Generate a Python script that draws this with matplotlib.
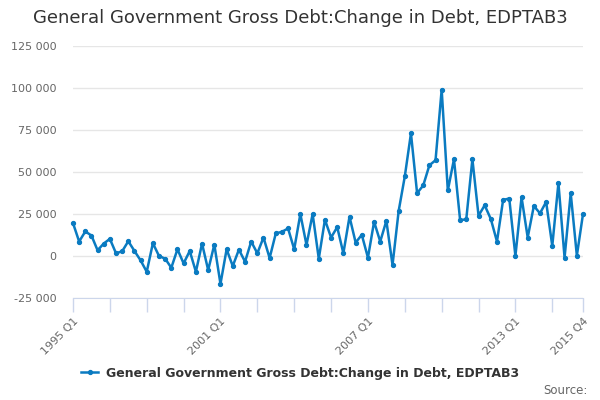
import numpy as np
import matplotlib
import matplotlib.pyplot as plt
from matplotlib.ticker import FixedLocator, FuncFormatter

matplotlib.use('Agg')

# quarterly change in debt, 1995 Q1 .. 2015 Q4
quarters = [f'{y} Q{q}' for y in range(1995, 2016) for q in range(1, 5)]
change_in_debt = [
    19600, 8600, 14600, 12200, 3400, 7400, 10200, 1600,
    2800, 8800, 3000, -2600, -9400, 7600, 0, -1600,
    -7000, 4000, -4400, 3000, -9400, 7400, -8400, 6800,
    -16600, 4000, -6000, 3800, -3400, 8600, 1600, 11000,
    -1200, 13400, 14400, 16400, 4000, 25000, 6600, 25000,
    -1600, 21600, 11000, 17200, 1600, 23400, 8000, 12600,
    -1000, 20400, 8600, 21000, -5400, 26800, 47400, 73000,
    37400, 42000, 54000, 57000, 99000, 39000, 57600, 21400,
    21800, 57600, 24000, 30200, 22000, 8600, 33400, 34200,
    0, 35000, 11000, 29800, 25400, 32200, 6000, 43400,
    -1000, 37400, 200, 25000,
]
series_name = 'General Government Gross Debt:Change in Debt, EDPTAB3'
y_ticks = [-25000, 0, 25000, 50000, 75000, 100000, 125000]
label_idx = [0, 24, 48, 72, 83]

line_color = '#0a7bc1'
grid_color = '#e6e6e6'
axis_color = '#ccd6eb'
label_color = '#666666'

fig = plt.figure(figsize=(6, 4), dpi=100)
ax = fig.add_axes([73 / 600, 1 - 298 / 400, 510 / 600, 252 / 400])

x = np.arange(len(change_in_debt))
ax.plot(x, change_in_debt, color=line_color, lw=1.8, marker='o', ms=2.8,
        label=series_name, clip_on=False, zorder=3)

ax.set_xlim(0, len(quarters) - 1)
ax.set_ylim(y_ticks[0], y_ticks[-1])

ax.set_yticks(y_ticks)
ax.yaxis.set_major_formatter(FuncFormatter(lambda v, p: f'{int(v):,}'.replace(',', ' ')))
ax.tick_params(axis='y', length=0, labelsize=8, labelcolor=label_color, pad=12)
ax.grid(axis='y', color=grid_color, lw=1)
ax.set_axisbelow(True)

ax.xaxis.set_major_locator(FixedLocator(label_idx))
ax.set_xticklabels([quarters[i] for i in label_idx], rotation=45, ha='right',
                   rotation_mode='anchor')
ax.xaxis.set_minor_locator(FixedLocator(list(range(0, 84, 6)) + [83]))
ax.tick_params(axis='x', which='both', length=10, color=axis_color, width=1,
               labelsize=8, labelcolor=label_color, pad=3)

for s in ['left', 'right', 'top']:
    ax.spines[s].set_visible(False)
ax.spines['bottom'].set_color(axis_color)

fig.text(0.5, 1 - 18 / 400, series_name, ha='center', va='center',
         fontsize=13, color='#333333')

leg = ax.legend(loc='center', bbox_to_anchor=(0.5, 1 - 373 / 400),
                bbox_transform=fig.transFigure, frameon=False, handlelength=1.4,
                handletextpad=0.6, prop={'weight': 'bold', 'size': 9})
for t in leg.get_texts():
    t.set_color('#333333')

fig.text(588 / 600, 1 - 390 / 400, 'Source:', ha='right', va='center',
         fontsize=8.5, color=label_color)

fig.savefig('out.png', dpi=100)
